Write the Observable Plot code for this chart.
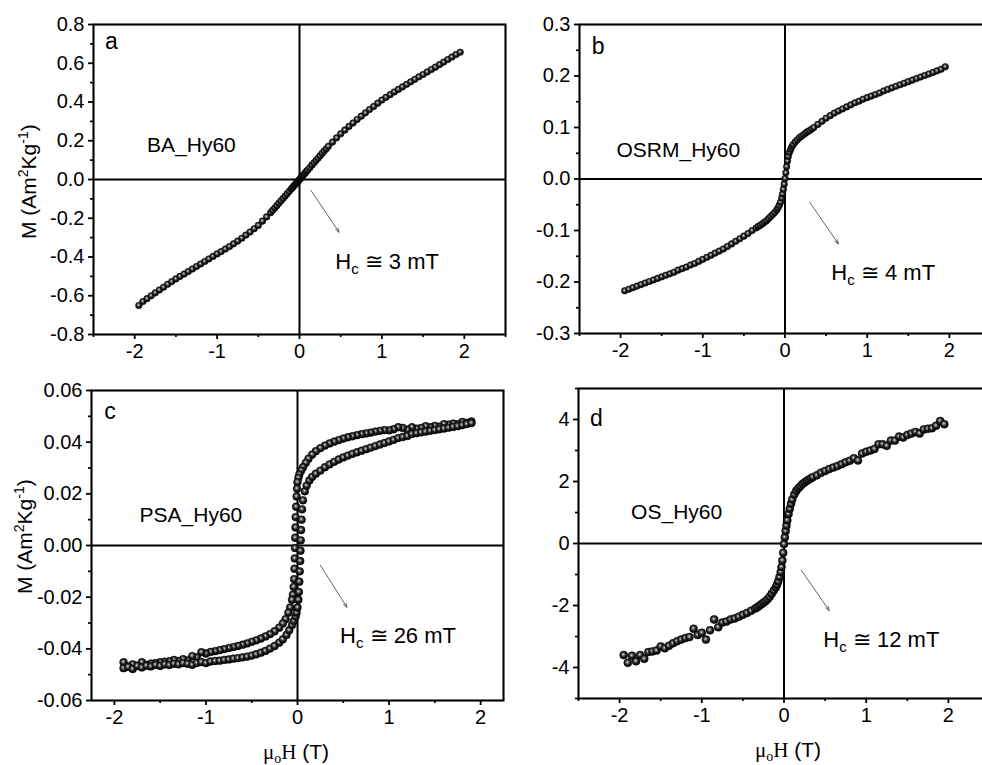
<!DOCTYPE html>
<html><head><meta charset="utf-8">
<script src="https://cdn.jsdelivr.net/npm/d3@7"></script>
<script src="https://cdn.jsdelivr.net/npm/@observablehq/plot@0.6"></script>
<style>
html,body{margin:0;padding:0;background:#fff;overflow:hidden;}
#wrap{position:relative;width:982px;height:765px;overflow:hidden;background:#fff;}
.panel{position:absolute;}
</style></head><body><div id="wrap"></div>
<script>
// ---------- shared field grid (T) for panels a, b, d ----------
const G = [-1.95,-1.9,-1.85,-1.8,-1.75,-1.7,-1.65,-1.6,-1.55,-1.5,-1.45,-1.4,-1.35,-1.3,-1.25,-1.2,-1.15,-1.1,-1.05,-1,-0.95,-0.9,-0.85,-0.8,-0.75,-0.7,-0.65,-0.6,-0.55,-0.5,-0.45,-0.4,-0.35,
  -0.325,-0.3,-0.275,-0.25,-0.225,-0.2,-0.175,-0.15,-0.125,-0.1,-0.085,-0.07,-0.055,-0.04,-0.03,-0.02,-0.01,
  0,
  0.01,0.02,0.03,0.04,0.055,0.07,0.085,0.1,0.125,0.15,0.175,0.2,0.225,0.25,0.275,0.3,0.325,
  0.35,0.4,0.45,0.5,0.55,0.6,0.65,0.7,0.75,0.8,0.85,0.9,0.95,1,1.05,1.1,1.15,1.2,1.25,1.3,1.35,1.4,1.45,1.5,1.55,1.6,1.65,1.7,1.75,1.8,1.85,1.9,1.95];

// ---------- panel a: BA_Hy60 ----------
const mA = [-0.65,-0.63,-0.615,-0.6,-0.585,-0.57,-0.556,-0.541,-0.527,-0.513,-0.5,-0.488,-0.475,-0.462,-0.449,-0.436,-0.423,-0.41,-0.397,-0.384,-0.372,-0.359,-0.346,-0.332,-0.318,-0.303,-0.287,-0.271,-0.254,-0.237,-0.215,-0.193,-0.171,
  -0.159,-0.147,-0.135,-0.122,-0.11,-0.098,-0.086,-0.074,-0.061,-0.049,-0.042,-0.034,-0.027,-0.02,-0.015,-0.01,-0.005,
  0,
  0.005,0.01,0.015,0.02,0.027,0.034,0.042,0.049,0.061,0.074,0.086,0.098,0.11,0.122,0.135,0.147,0.159,
  0.171,0.193,0.215,0.236,0.255,0.274,0.292,0.31,0.327,0.344,0.361,0.377,0.394,0.41,0.424,0.438,0.452,0.465,0.478,0.491,0.504,0.517,0.53,0.542,0.555,0.568,0.58,0.593,0.606,0.619,0.632,0.645,0.657];

// ---------- panel b: OSRM_Hy60 ----------
const mB = [-0.217,-0.214,-0.211,-0.208,-0.205,-0.202,-0.199,-0.196,-0.193,-0.19,-0.187,-0.184,-0.181,-0.177,-0.174,-0.171,-0.167,-0.164,-0.16,-0.156,-0.152,-0.148,-0.144,-0.14,-0.136,-0.131,-0.126,-0.121,-0.116,-0.111,-0.106,-0.1,-0.095,
  -0.092,-0.09,-0.087,-0.084,-0.081,-0.077,-0.073,-0.069,-0.065,-0.06,-0.056,-0.051,-0.045,-0.037,-0.029,-0.02,-0.01,
  0.001,
  0.012,0.024,0.035,0.044,0.052,0.058,0.063,0.067,0.072,0.076,0.08,0.083,0.086,0.089,0.092,0.094,0.097,
  0.1,0.106,0.112,0.118,0.123,0.128,0.132,0.136,0.14,0.144,0.148,0.151,0.155,0.158,0.161,0.164,0.167,0.171,0.174,0.177,0.18,0.183,0.186,0.189,0.192,0.195,0.198,0.201,0.204,0.207,0.21,0.213,0.218];

// ---------- panel d: OS_Hy60 ----------
const mD = [-3.6,-3.85,-3.62,-3.8,-3.6,-3.72,-3.5,-3.48,-3.45,-3.32,-3.38,-3.3,-3.22,-3.15,-3.1,-3.05,-3.02,-2.75,-2.95,-2.88,-3.1,-2.8,-2.45,-2.7,-2.55,-2.52,-2.45,-2.42,-2.36,-2.3,-2.24,-2.17,-2.1,
  -2.06,-2.01,-1.96,-1.91,-1.86,-1.8,-1.72,-1.62,-1.52,-1.42,-1.33,-1.22,-1.08,-0.92,-0.76,-0.55,-0.3,
  -0.02,
  0.2,0.4,0.58,0.75,0.95,1.12,1.28,1.42,1.58,1.7,1.78,1.85,1.92,1.97,2.02,2.06,2.1,
  2.14,2.2,2.28,2.34,2.4,2.45,2.5,2.56,2.62,2.67,2.75,2.68,2.9,2.96,3.0,3.05,3.2,3.2,3.15,3.32,3.32,3.45,3.42,3.5,3.55,3.6,3.55,3.68,3.7,3.72,3.8,3.95,3.85];

// ---------- panel c: PSA_Hy60, two branches ----------
const cDownH = [1.9,1.85,1.8,1.75,1.7,1.65,1.6,1.55,1.5,1.45,1.4,1.35,1.3,1.25,1.2,1.15,1.1,1.05,1,0.95,0.9,0.85,0.8,0.75,0.7,0.65,0.6,0.55,0.5,0.45,0.4,0.35,0.3,0.25,0.2,0.16,0.12,0.09,0.06,0.04,0.02,0.01,0,
  -0.005,-0.01,-0.015,-0.02,-0.022,-0.025,-0.027,-0.03,-0.033,-0.037,-0.042,-0.05,-0.06,-0.08,-0.1,-0.13,-0.16,-0.2,-0.25,-0.3,-0.35,-0.4,-0.45,-0.5,-0.55,-0.6,-0.65,-0.7,-0.75,-0.8,-0.85,-0.9,-0.95,-1,-1.05,-1.1,-1.15,-1.2,-1.25,-1.3,-1.35,-1.4,-1.45,-1.5,-1.55,-1.6,-1.65,-1.7,-1.75,-1.8,-1.85,-1.9];
const cDownM = [0.048,0.0475,0.0478,0.047,0.0472,0.0468,0.047,0.046,0.0463,0.0458,0.0462,0.0455,0.0452,0.0458,0.0448,0.0455,0.0458,0.045,0.0446,0.0447,0.0444,0.0441,0.0437,0.0434,0.0431,0.0427,0.0423,0.0419,0.0414,0.0408,0.0402,0.0395,0.0387,0.0377,0.0365,0.0352,0.0336,0.032,0.0303,0.029,0.0275,0.0262,0.0245,
  0.022,0.019,0.015,0.011,0.007,0.003,-0.001,-0.005,-0.009,-0.013,-0.016,-0.019,-0.021,-0.024,-0.026,-0.0285,-0.0302,-0.0318,-0.0332,-0.0343,-0.0352,-0.036,-0.0367,-0.0373,-0.0379,-0.0384,-0.0389,-0.0393,-0.0397,-0.0401,-0.0405,-0.0409,-0.0412,-0.0418,-0.0413,-0.0433,-0.0428,-0.0445,-0.044,-0.0447,-0.0443,-0.0448,-0.045,-0.0452,-0.0455,-0.0457,-0.0462,-0.0452,-0.0465,-0.046,-0.0468,-0.0452];
const cUpH = [-1.9,-1.85,-1.8,-1.75,-1.7,-1.65,-1.6,-1.55,-1.5,-1.45,-1.4,-1.35,-1.3,-1.25,-1.2,-1.15,-1.1,-1.05,-1,-0.95,-0.9,-0.85,-0.8,-0.75,-0.7,-0.65,-0.6,-0.55,-0.5,-0.45,-0.4,-0.35,-0.3,-0.25,-0.2,-0.16,-0.12,-0.09,-0.06,-0.04,-0.02,-0.01,0,
  0.01,0.015,0.02,0.025,0.03,0.033,0.036,0.04,0.045,0.05,0.06,0.08,0.1,0.13,0.16,0.2,0.25,0.3,0.35,0.4,0.45,0.5,0.55,0.6,0.65,0.7,0.75,0.8,0.85,0.9,0.95,1,1.05,1.1,1.15,1.2,1.25,1.3,1.35,1.4,1.45,1.5,1.55,1.6,1.65,1.7,1.75,1.8,1.85,1.9];
const cUpM = [-0.0475,-0.047,-0.0478,-0.0466,-0.0472,-0.0465,-0.0468,-0.0462,-0.0466,-0.046,-0.0463,-0.0458,-0.046,-0.0455,-0.0458,-0.0462,-0.0455,-0.0451,-0.0455,-0.0449,-0.0447,-0.0446,-0.0443,-0.0441,-0.0438,-0.0436,-0.0433,-0.043,-0.0426,-0.0421,-0.0415,-0.0408,-0.0399,-0.0389,-0.0376,-0.0363,-0.0346,-0.0328,-0.0308,-0.0292,-0.0275,-0.026,-0.024,
  -0.021,-0.018,-0.014,-0.01,-0.006,-0.002,0.002,0.006,0.01,0.014,0.0175,0.021,0.0232,0.0252,0.0266,0.0278,0.029,0.0303,0.0314,0.0324,0.0333,0.0341,0.0348,0.0355,0.0361,0.0367,0.0373,0.0379,0.0385,0.0391,0.0397,0.0403,0.0409,0.0416,0.042,0.0424,0.0432,0.0435,0.0438,0.0441,0.0444,0.0447,0.045,0.0453,0.0456,0.0459,0.0462,0.0466,0.047,0.0474];

// ---------- ticks ----------
const xTicks = [-2,-1,0,1,2];
const xMinor = [-2.5,-1.5,-0.5,0.5,1.5,2.5];
const xMinorC = [-1.5,-0.5,0.5,1.5];
const yTicksA = [-0.8,-0.6,-0.4,-0.2,0,0.2,0.4,0.6,0.8];
const yMinorA = [-0.7,-0.5,-0.3,-0.1,0.1,0.3,0.5,0.7];
const yTicksB = [-0.3,-0.2,-0.1,0,0.1,0.2,0.3];
const yMinorB = [-0.25,-0.15,-0.05,0.05,0.15,0.25];
const yTicksC = [-0.06,-0.04,-0.02,0,0.02,0.04,0.06];
const yMinorC = [-0.05,-0.03,-0.01,0.01,0.03,0.05];
const yTicksD = [-4,-2,0,2,4];
const yMinorD = [-5,-3,-1,1,3,5];

// ---------- annotations (data coordinates) ----------
const letters = ["a","b","c","d"];
const letterPos = [[-2.36,0.675],[-2.35,0.243],[-2.11,0.049],[-2.36,3.78]];
const names = ["BA_Hy60","OSRM_Hy60","PSA_Hy60","OS_Hy60"];
const namePos = [[-1.85,0.141],[-2.05,0.042],[-1.725,0.009],[-1.86,0.785]];
const hcValues = ["3","4","26","12"];
const hcPos = [[0.44,-0.466],[0.57,-0.197],[0.47,-0.038],[0.485,-3.34]];
const arrowPos = [[0.14,-0.057,0.48,-0.272],[0.30,-0.045,0.65,-0.126],[0.25,-0.0077,0.54,-0.0239],[0.21,-0.86,0.55,-2.16]];

const toPts = (hs, ms) => hs.map((h, i) => ({h, m: ms[i]}));
const fmt1 = d => d.toFixed(1), fmt2 = d => d.toFixed(2), fmt0 = d => String(d);

const panels = [
  {left:0, top:0, width:510, height:380, ml:93, mt:24, mr:5, mb:46, xd:[-2.5,2.5], yd:[-0.8,0.8], xm:xMinor,
   yt:yTicksA, ym:yMinorA, fmt:fmt1, r:3.3, series:[toPts(G,mA)], ytitle:[36,181.7]},
  {left:490, top:0, width:510, height:379, ml:89, mt:24, mr:10, mb:46, xd:[-2.5,2.5], yd:[-0.3,0.3], xm:xMinor,
   yt:yTicksB, ym:yMinorB, fmt:fmt1, r:3.3, series:[toPts(G,mB)]},
  {left:0, top:366, width:510, height:414, ml:91, mt:24, mr:7, mb:80, xd:[-2.25,2.25], yd:[-0.06,0.06], xm:xMinorC,
   yt:yTicksC, ym:yMinorC, fmt:fmt2, r:3.9, series:[toPts(cDownH,cDownM), toPts(cUpH,cUpM)], ytitle:[31.7,170.7], xtitle:[296,393]},
  {left:490, top:364, width:510, height:414, ml:88, mt:24, mr:11, mb:80, xd:[-2.5,2.5], yd:[-5,5], xm:xMinor,
   yt:yTicksD, ym:yMinorD, fmt:fmt0, r:4.0, series:[toPts(G,mD)], xtitle:[298,393]}
];

const wrap = document.getElementById("wrap");
const SANS = "'Liberation Sans', Arial, Helvetica, sans-serif";
const SERIF = "'Liberation Serif', 'Times New Roman', serif";

panels.forEach((p, i) => {
  const gid = "ball" + i;
  const marks = [
    Plot.ruleX([0], {stroke:"black", strokeWidth:2}),
    Plot.ruleY([0], {stroke:"black", strokeWidth:2}),
    Plot.axisX(p.xm, {tickSize:3, tickFormat:() => "", strokeWidth:1.7, label:null}),
    Plot.axisY(p.ym, {tickSize:3, tickFormat:() => "", strokeWidth:1.7, label:null}),
    Plot.axisX(xTicks, {tickSize:5, tickPadding:4, tickFormat:fmt0, strokeWidth:1.8, fontSize:20, label:null}),
    Plot.axisY(p.yt, {tickSize:5, tickPadding:4, tickFormat:p.fmt, strokeWidth:1.8, fontSize:20, label:null}),
    Plot.arrow([{x1:arrowPos[i][0], y1:arrowPos[i][1], x2:arrowPos[i][2], y2:arrowPos[i][3]}],
      {x1:"x1", y1:"y1", x2:"x2", y2:"y2", stroke:"#555", strokeWidth:0.9, headLength:7, headAngle:40}),
    ...p.series.map(s => Plot.dot(s, {x:"h", y:"m", r:p.r, fill:`url(#${gid})`, stroke:"#000", strokeWidth:0.5})),
    Plot.frame({stroke:"black", strokeWidth:2.1}),
    Plot.text([{x:letterPos[i][0], y:letterPos[i][1], t:letters[i]}], {x:"x", y:"y", text:"t", textAnchor:"start", lineAnchor:"bottom", fontSize:23, fill:"black"}),
    Plot.text([{x:namePos[i][0], y:namePos[i][1], t:names[i]}], {x:"x", y:"y", text:"t", textAnchor:"start", lineAnchor:"bottom", fontSize:21, fill:"black"})
  ];
  const plot = Plot.plot({
    width:p.width, height:p.height,
    marginLeft:p.ml, marginTop:p.mt, marginRight:p.mr, marginBottom:p.mb,
    x:{domain:p.xd}, y:{domain:p.yd},
    style:{background:"transparent", fontFamily:SANS, fontSize:"20px", color:"black", overflow:"visible", maxWidth:"none"},
    marks
  });
  const svg = d3.select(plot);
  const grad = svg.insert("defs", ":first-child").append("radialGradient")
    .attr("id", gid).attr("cx", "45%").attr("cy", "42%").attr("r", "58%");
  grad.append("stop").attr("offset", "0").attr("stop-color", "#e6e6e6");
  grad.append("stop").attr("offset", "0.25").attr("stop-color", "#7a7a7a");
  grad.append("stop").attr("offset", "0.55").attr("stop-color", "#222");
  grad.append("stop").attr("offset", "1").attr("stop-color", "#000");

  const sx = plot.scale("x"), sy = plot.scale("y");
  // Hc label
  const hc = svg.append("text").attr("x", sx.apply(hcPos[i][0])).attr("y", sy.apply(hcPos[i][1]))
    .attr("text-anchor", "start").attr("font-size", 22).attr("font-family", SANS).attr("fill", "black");
  hc.append("tspan").text("H");
  hc.append("tspan").attr("font-size", 15).attr("dy", 5).text("c");
  hc.append("tspan").attr("dy", -5).text(" \u2245 " + hcValues[i] + " mT");

  if (p.ytitle) {
    const yt = svg.append("text").attr("transform", `translate(${p.ytitle[0]},${p.ytitle[1]}) rotate(-90)`)
      .attr("text-anchor", "middle").attr("font-size", 21).attr("font-family", SANS).attr("fill", "black");
    yt.append("tspan").text("M (Am");
    yt.append("tspan").attr("font-size", 14).attr("dy", -8).text("2");
    yt.append("tspan").attr("dy", 8).text("Kg");
    yt.append("tspan").attr("font-size", 14).attr("dy", -8).text("-1");
    yt.append("tspan").attr("dy", 8).text(")");
  }
  if (p.xtitle) {
    const xt = svg.append("text").attr("x", p.xtitle[0]).attr("y", p.xtitle[1])
      .attr("text-anchor", "middle").attr("font-size", 21).attr("font-family", SANS).attr("fill", "black");
    xt.append("tspan").attr("font-family", SERIF).text("\u03BC");
    xt.append("tspan").attr("font-family", SERIF).attr("font-size", 14).attr("dy", 4).text("o");
    xt.append("tspan").attr("font-family", SERIF).attr("dy", -4).text("H");
    xt.append("tspan").text(" (T)");
  }

  const div = document.createElement("div");
  div.className = "panel";
  div.style.left = p.left + "px";
  div.style.top = p.top + "px";
  div.style.width = p.width + "px";
  div.appendChild(plot);
  wrap.appendChild(div);
});
</script></body></html>
